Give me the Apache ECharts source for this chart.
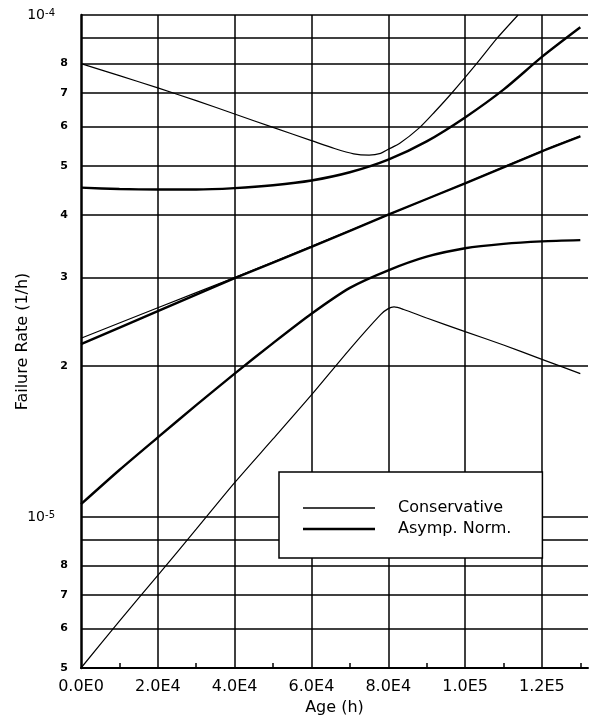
<!DOCTYPE html>
<html>
<head>
<meta charset="utf-8">
<script src="https://cdn.jsdelivr.net/npm/echarts@6/dist/echarts.min.js"></script>
<style>
  html, body { margin: 0; padding: 0; background: #fff; }
  #chart { width: 591px; height: 721px; }
</style>
</head>
<body>
<div id="chart"></div>
<script>
// Failure rate (1/h) versus age (h): conservative bounds and asymptotic-normal bounds

// Conservative (thin lines)
const ageConsUpper  = [0, 1e4, 2e4, 3e4, 4e4, 5e4, 6e4, 6.6e4, 7.1e4, 7.5e4, 7.8e4, 8.0e4, 8.3e4, 8.8e4, 9.2e4, 9.66e4, 1.03e5, 1.084e5, 1.138e5];
const rateConsUpper = [8.0e-5, 7.57e-5, 7.16e-5, 6.75e-5, 6.35e-5, 5.97e-5, 5.62e-5, 5.42e-5, 5.29e-5, 5.26e-5, 5.3e-5, 5.4e-5, 5.55e-5, 5.95e-5, 6.4e-5, 7.0e-5, 8.0e-5, 9.0e-5, 1.0e-4];

const ageConsMid  = [0, 2e4, 4e4, 6e4, 8e4, 1e5, 1.2e5, 1.3e5];
const rateConsMid = [2.27e-5, 2.61e-5, 3.0e-5, 3.46e-5, 4.0e-5, 4.62e-5, 5.36e-5, 5.74e-5];

const ageConsLower  = [0, 1e4, 2e4, 3e4, 4e4, 5e4, 6e4, 7e4, 7.8e4, 8.0e4, 8.15e4, 8.4e4, 9e4, 1e5, 1.1e5, 1.2e5, 1.3e5];
const rateConsLower = [5.0e-6, 6.2e-6, 7.65e-6, 9.45e-6, 1.17e-5, 1.43e-5, 1.75e-5, 2.16e-5, 2.53e-5, 2.6e-5, 2.62e-5, 2.59e-5, 2.49e-5, 2.34e-5, 2.2e-5, 2.06e-5, 1.93e-5];

// Asymptotic normal (thick lines)
const ageAsymUpper  = [0, 1e4, 2e4, 3e4, 4e4, 5e4, 6e4, 7e4, 8e4, 9e4, 1e5, 1.1e5, 1.2e5, 1.3e5];
const rateAsymUpper = [4.53e-5, 4.5e-5, 4.49e-5, 4.49e-5, 4.52e-5, 4.58e-5, 4.68e-5, 4.86e-5, 5.15e-5, 5.6e-5, 6.25e-5, 7.1e-5, 8.25e-5, 9.45e-5];

const ageAsymMid  = [0, 2e4, 4e4, 6e4, 8e4, 1e5, 1.2e5, 1.3e5];
const rateAsymMid = [2.21e-5, 2.57e-5, 2.99e-5, 3.45e-5, 4.0e-5, 4.62e-5, 5.35e-5, 5.73e-5];

const ageAsymLower  = [0, 1e4, 2e4, 3e4, 4e4, 5e4, 6e4, 7e4, 8e4, 9e4, 1e5, 1.1e5, 1.2e5, 1.3e5];
const rateAsymLower = [1.06e-5, 1.24e-5, 1.44e-5, 1.67e-5, 1.93e-5, 2.22e-5, 2.54e-5, 2.86e-5, 3.1e-5, 3.3e-5, 3.43e-5, 3.5e-5, 3.54e-5, 3.56e-5];

// Axis ranges and ticks
const AGE_MIN = 0, AGE_MAX = 1.32e5;
const RATE_MIN = 5e-6, RATE_MAX = 1e-4;
const xLabelValues = [0, 2e4, 4e4, 6e4, 8e4, 1e5, 1.2e5];
const xMinorTicks  = [1e4, 3e4, 5e4, 7e4, 9e4, 1.1e5, 1.3e5];
const yGridValues  = [5e-6, 6e-6, 7e-6, 8e-6, 9e-6, 1e-5, 2e-5, 3e-5, 4e-5, 5e-5, 6e-5, 7e-5, 8e-5, 9e-5, 1e-4];
const yGridLabels  = ['5', '6', '7', '8', '', '10|-5', '2', '3', '4', '5', '6', '7', '8', '', '10|-4'];

const FONT = 'DejaVu Sans';
const INK = '#000';

function pairs(xs, ys) { return xs.map((x, i) => [x, ys[i]]); }

function sciLabel(v) {
  if (v === 0) return '0.0E0';
  const e = Math.floor(Math.log10(v) + 1e-9);
  return (v / Math.pow(10, e)).toFixed(1) + 'E' + e;
}

// Horizontal grid lines, labelled at their left end
const hLines = yGridValues.map((v, i) => {
  const txt = yGridLabels[i];
  const isPow = txt.indexOf('|') >= 0;
  const parts = txt.split('|');
  return {
    coords: [[AGE_MIN, v], [AGE_MAX, v]],
    lineStyle: { color: INK, width: 1.5, opacity: 1 },
    label: {
      show: txt !== '',
      position: 'start',
      distance: isPow ? 26 : 13,
      formatter: isPow ? '{b|' + parts[0] + '}{s|' + parts[1] + '}' : '{d|' + txt + '}',
      rich: {
        b: { fontFamily: FONT, fontSize: 14, color: INK },
        s: { fontFamily: FONT, fontSize: 10, color: INK, verticalAlign: 'top' },
        d: { fontFamily: FONT, fontSize: 11, fontWeight: 'bold', color: INK }
      }
    }
  };
});

// Vertical grid lines at the labelled ages
const vLines = xLabelValues.filter(v => v > 0).map(v => ({
  coords: [[v, RATE_MIN], [v, RATE_MAX]],
  lineStyle: { color: INK, width: 1.5, opacity: 1 },
  label: { show: false }
}));

function curve(name, xs, ys, width) {
  return {
    type: 'line',
    name: name,
    data: pairs(xs, ys),
    symbol: 'none',
    smooth: 0.25,
    z: 3,
    lineStyle: { color: INK, width: width },
    itemStyle: { color: INK },
    silent: true
  };
}

// Legend keys: a horizontal bar inside a 72x14 box
const thinKey  = 'path://M0,0M72,14M0,6.3H72V7.7H0Z';
const thickKey = 'path://M0,0M72,14M0,5.8H72V8.2H0Z';

const chart = echarts.init(document.getElementById('chart'), null, { renderer: 'canvas' });

chart.setOption({
  animation: false,
  backgroundColor: '#fff',
  grid: { left: 81, right: 3, top: 15, bottom: 51, containLabel: false },
  legend: {
    data: [
      { name: 'Conservative', icon: thinKey },
      { name: 'Asymp. Norm.', icon: thickKey }
    ],
    orient: 'vertical',
    left: 279,
    top: 472,
    padding: [28, 31, 21, 24],
    itemWidth: 72,
    itemHeight: 14,
    itemGap: 5,
    borderColor: INK,
    borderWidth: 1.5,
    backgroundColor: '#fff',
    selectedMode: false,
    itemStyle: { color: INK, borderWidth: 0 },
    textStyle: { fontFamily: FONT, fontSize: 16, color: INK, padding: [0, 0, 0, 18] }
  },
  xAxis: {
    type: 'value',
    min: AGE_MIN,
    max: AGE_MAX,
    interval: 2e4,
    name: 'Age (h)',
    nameLocation: 'middle',
    nameGap: 32,
    nameTextStyle: { fontFamily: FONT, fontSize: 16, color: INK },
    axisLine: { show: true, onZero: false, lineStyle: { color: INK, width: 2 } },
    axisTick: { show: true, inside: true, length: 5, customValues: xMinorTicks, lineStyle: { color: INK, width: 1.5 } },
    axisLabel: {
      customValues: xLabelValues,
      formatter: sciLabel,
      margin: 11,
      fontFamily: FONT,
      fontSize: 16,
      color: INK
    },
    splitLine: { show: false }
  },
  yAxis: {
    type: 'log',
    logBase: 10,
    min: RATE_MIN,
    max: RATE_MAX,
    name: 'Failure Rate (1/h)',
    nameLocation: 'middle',
    nameRotate: 90,
    nameGap: 50,
    nameTextStyle: { fontFamily: FONT, fontSize: 16, color: INK },
    axisLine: { show: true, onZero: false, lineStyle: { color: INK, width: 2.5 } },
    axisTick: { show: false },
    axisLabel: { show: false },
    splitLine: { show: false },
    minorTick: { show: false },
    minorSplitLine: { show: false }
  },
  series: [
    {
      type: 'lines',
      name: 'grid',
      coordinateSystem: 'cartesian2d',
      clip: false,
      silent: true,
      z: 1,
      lineStyle: { color: INK, opacity: 1 },
      data: hLines.concat(vLines)
    },
    curve('Conservative', ageConsUpper, rateConsUpper, 1.2),
    curve('Conservative', ageConsMid, rateConsMid, 1.2),
    curve('Conservative', ageConsLower, rateConsLower, 1.2),
    curve('Asymp. Norm.', ageAsymUpper, rateAsymUpper, 2.4),
    curve('Asymp. Norm.', ageAsymMid, rateAsymMid, 2.4),
    curve('Asymp. Norm.', ageAsymLower, rateAsymLower, 2.4)
  ]
});
</script>
</body>
</html>
